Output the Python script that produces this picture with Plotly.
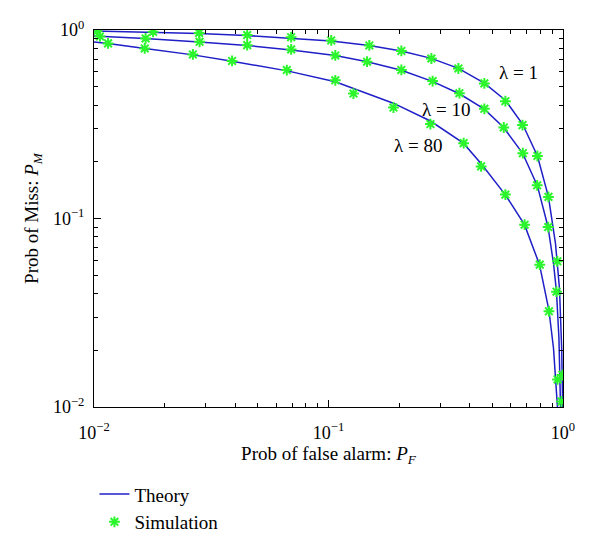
import math
import plotly.graph_objects as go

# ---- data ----
theory_l1_pf = [0.0100, 0.01786, 0.02807, 0.04457, 0.0693, 0.1027, 0.1493, 0.2045, 0.2746, 0.358, 0.462, 0.568, 0.672, 0.778, 0.867, 0.929, 0.966, 0.987, 0.997]
theory_l1_pm = [0.988, 0.976, 0.958, 0.935, 0.907, 0.875, 0.828, 0.774, 0.707, 0.626, 0.522, 0.424, 0.317, 0.2146, 0.1302, 0.0736, 0.0425, 0.0205, 0.0100]

theory_l10_pf = [0.0100, 0.01651, 0.02807, 0.04498, 0.0693, 0.1069, 0.1463, 0.2045, 0.2773, 0.3617, 0.462, 0.557, 0.672, 0.778, 0.863, 0.911, 0.938, 0.961, 0.976]
theory_l10_pm = [0.930, 0.902, 0.864, 0.828, 0.784, 0.733, 0.678, 0.611, 0.534, 0.459, 0.380, 0.305, 0.2225, 0.1489, 0.0904, 0.0577, 0.0410, 0.0231, 0.0100]

theory_l80_pf = [0.0100, 0.01148, 0.01651, 0.02646, 0.03883, 0.0667, 0.1069, 0.1890, 0.2720, 0.3761, 0.4488, 0.568, 0.685, 0.794, 0.871, 0.911, 0.947]
theory_l80_pm = [0.864, 0.849, 0.798, 0.738, 0.682, 0.607, 0.531, 0.409, 0.329, 0.251, 0.1947, 0.1335, 0.0927, 0.0569, 0.0326, 0.0205, 0.0100]

sim_l1_pf = [0.0103, 0.01786, 0.02807, 0.0450, 0.0693, 0.1027, 0.1493, 0.2045, 0.2746, 0.358, 0.462, 0.568, 0.672, 0.778, 0.867, 0.946, 0.995]
sim_l1_pm = [0.985, 0.978, 0.965, 0.940, 0.916, 0.880, 0.828, 0.774, 0.706, 0.625, 0.521, 0.419, 0.313, 0.2146, 0.1302, 0.0593, 0.0148]

sim_l10_pf = [0.0106, 0.0166, 0.0282, 0.0450, 0.0693, 0.1069, 0.1460, 0.2045, 0.2780, 0.3617, 0.462, 0.559, 0.674, 0.776, 0.865, 0.938, 0.985]
sim_l10_pm = [0.924, 0.902, 0.866, 0.831, 0.789, 0.733, 0.679, 0.614, 0.536, 0.462, 0.382, 0.304, 0.222, 0.150, 0.0901, 0.0409, 0.0107]

sim_l80_pf = [0.01148, 0.01646, 0.02640, 0.0388, 0.0664, 0.1069, 0.1278, 0.1893, 0.2720, 0.3770, 0.4475, 0.568, 0.686, 0.796, 0.871, 0.948]
sim_l80_pm = [0.849, 0.798, 0.742, 0.685, 0.613, 0.541, 0.460, 0.388, 0.317, 0.251, 0.189, 0.1339, 0.0927, 0.0569, 0.0322, 0.0140]

curve_labels = ["λ = 1", "λ = 10", "λ = 80"]
label_pf = [0.525, 0.246, 0.187]
label_pm = [0.596, 0.380, 0.243]

major_vals = [0.01, 0.1, 1]
major_text = ["10<sup>−2</sup>", "10<sup>−1</sup>", "10<sup>0</sup>"]
minor_vals = [m * d for d in (0.01, 0.1) for m in range(2, 10)]

LINE = "#1f1fc8"
MARK = "#2bf52b"
FONT = "Liberation Serif"

fig = go.Figure()
theories = [(theory_l1_pf, theory_l1_pm), (theory_l10_pf, theory_l10_pm), (theory_l80_pf, theory_l80_pm)]
sims = [(sim_l1_pf, sim_l1_pm), (sim_l10_pf, sim_l10_pm), (sim_l80_pf, sim_l80_pm)]

for i, (x, y) in enumerate(theories):
    fig.add_trace(go.Scatter(x=x, y=y, mode="lines", line=dict(color=LINE, width=1.5),
                             name="Theory", showlegend=(i == 0), legendrank=1))
for i, (x, y) in enumerate(sims):
    fig.add_trace(go.Scatter(x=x, y=y, mode="markers",
                             marker=dict(symbol="asterisk-open", size=9, color=MARK,
                                         line=dict(color=MARK, width=2)),
                             name="Simulation", showlegend=(i == 0), legendrank=2))

# annotations on log axes are placed in log10 units
for t, x, y in zip(curve_labels, label_pf, label_pm):
    fig.add_annotation(x=math.log10(x), y=math.log10(y), xref="x", yref="y", text=t,
                       showarrow=False, xanchor="left", yanchor="middle",
                       font=dict(family=FONT, size=19, color="black"))

axis_common = dict(type="log", showgrid=False, zeroline=False, showline=True, linecolor="black",
                   linewidth=1, mirror="allticks", ticks="inside", ticklen=7, tickcolor="black",
                   tickmode="array", tickvals=major_vals, ticktext=major_text, automargin=False,
                   tickfont=dict(family=FONT, size=18, color="black"),
                   minor=dict(tickmode="array", tickvals=minor_vals, ticks="inside", ticklen=4,
                              tickcolor="black", showgrid=False))

fig.update_xaxes(**axis_common, range=[-2, 0], ticklabelstandoff=9,
                 title=dict(text="Prob of false alarm: <i>P</i><sub><i>F</i></sub>",
                            font=dict(family=FONT, size=19, color="black"), standoff=2))
fig.update_yaxes(**axis_common, range=[-2, 0], ticklabelstandoff=5,
                 title=dict(text="Prob of Miss: <i>P</i><sub><i>M</i></sub>",
                            font=dict(family=FONT, size=19, color="black"), standoff=9))

fig.update_layout(
    width=600, height=545,
    margin=dict(l=86, r=45, t=22, b=144),
    paper_bgcolor="white", plot_bgcolor="white",
    font=dict(family=FONT, size=18, color="black"),
    legend=dict(x=0.001, y=-0.181, xanchor="left", yanchor="top", bgcolor="rgba(0,0,0,0)",
                font=dict(family=FONT, size=19, color="black"), tracegroupgap=0,
                itemwidth=30),
)

fig.write_html("out.html")
